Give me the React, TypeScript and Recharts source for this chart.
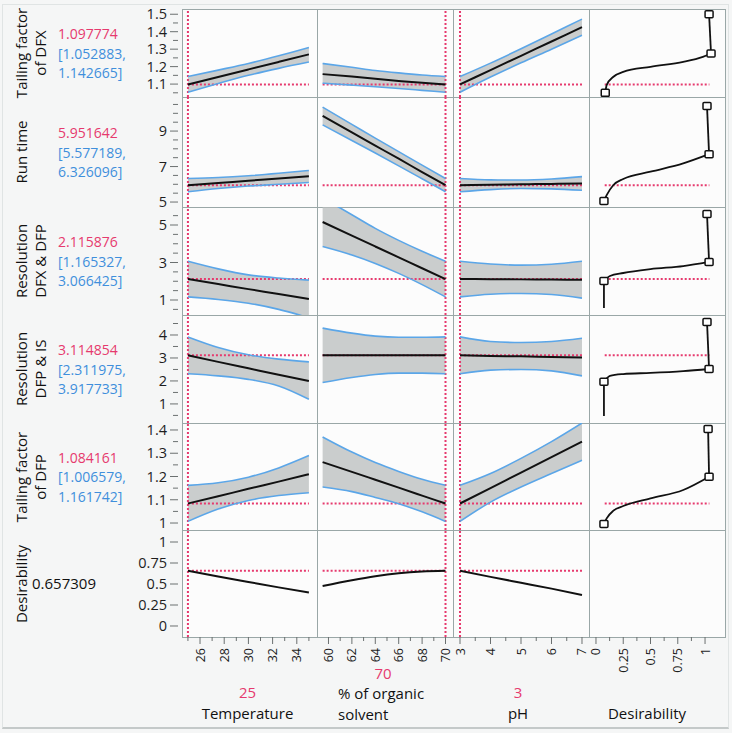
import React from "react";
import { ComposedChart, Area, Line, XAxis, YAxis, ReferenceLine } from "recharts";

const FONT = "'Open Sans', 'Noto Sans', sans-serif";
const RED = "#e63a6e";
const BLUE = "#5ba6e8";
const CI_BLUE = "#3f8fdc";
const FRAME = "#9aa7a7";

// factor grids + current settings
const tempX = [25, 27.5, 30, 32.5, 35];
const solvX = [59.5, 62, 64, 66, 68, 70];
const phX = [3, 4, 5, 6, 7];
const factorNow = [25, 70, 3];

// responses
const rowTitles = [["Tailing factor", "of DFX"], ["Run time"], ["Resolution", "DFX & DFP"], ["Resolution", "DFP & IS"], ["Tailing factor", "of DFP"], ["Desirability"]];
const rowValues = ["1.097774", "5.951642", "2.115876", "3.114854", "1.084161", "0.657309"];
const rowCI = [["[1.052883,", "1.142665]"], ["[5.577189,", "6.326096]"], ["[1.165327,", "3.066425]"], ["[2.311975,", "3.917733]"], ["[1.006579,", "1.161742]"], null];
const rowNow = [1.097774, 5.951642, 2.115876, 3.114854, 1.084161, 0.657309];

// y axes
const yDomains = [[1.026, 1.53], [4.72, 10.92], [0.2, 5.96], [0.17, 4.87], [0.97, 1.43], [-0.131, 1.143]];
const yMajor = [[1.1, 1.2, 1.3, 1.4, 1.5], [5, 7, 9], [1, 3, 5], [1, 2, 3, 4], [1, 1.1, 1.2, 1.3, 1.4], [0, 0.25, 0.5, 0.75, 1]];
const yMinor = [[1.05, 1.15, 1.25, 1.35, 1.45], [5.5, 6, 6.5, 7.5, 8, 8.5, 9.5, 10, 10.5], [0.5, 1.5, 2, 2.5, 3.5, 4, 4.5, 5.5], [0.5, 1.5, 2.5, 3.5, 4.5], [1.05, 1.15, 1.25, 1.35], []];

// x axes
const xTitles = [["Temperature"], ["% of organic", "solvent"], ["pH"], ["Desirability"]];
const xNowLabels = ["25", "70", "3", ""];
const xDomains = [[24.51, 35.67], [59.02, 70.64], [2.77, 7.23], [-0.064, 1.183]];
const xMajor = [[26, 28, 30, 32, 34], [60, 62, 64, 66, 68, 70], [3, 4, 5, 6, 7], [0, 0.25, 0.5, 0.75, 1]];
const xMinor = [[25, 27, 29, 31, 33, 35], [61, 63, 65, 67, 69], [3.5, 4.5, 5.5, 6.5], [0.125, 0.375, 0.625, 0.875]];

// Tailing factor of DFX
const tfxTemp = { fit: [1.098, 1.141, 1.184, 1.227, 1.27], lo: [1.053, 1.103, 1.15, 1.19, 1.226], hi: [1.143, 1.18, 1.218, 1.262, 1.31] };
const tfxSolv = { fit: [1.157, 1.143, 1.13, 1.118, 1.107, 1.098], lo: [1.105, 1.094, 1.085, 1.075, 1.064, 1.053], hi: [1.218, 1.196, 1.178, 1.164, 1.152, 1.143] };
const tfxPh = { fit: [1.098, 1.18, 1.262, 1.344, 1.426], lo: [1.053, 1.14, 1.222, 1.3, 1.38], hi: [1.143, 1.22, 1.302, 1.387, 1.472] };
// Run time
const rtTemp = { fit: [5.952, 6.07, 6.2, 6.32, 6.45], lo: [5.577, 5.76, 5.9, 6.0, 6.1], hi: [6.326, 6.38, 6.48, 6.62, 6.78] };
const rtSolv = { fit: [9.85, 8.92, 8.18, 7.44, 6.69, 5.952], lo: [9.35, 8.47, 7.76, 7.04, 6.31, 5.577], hi: [10.35, 9.38, 8.6, 7.84, 7.08, 6.326] };
const rtPh = { fit: [5.952, 5.97, 6.0, 6.02, 6.05], lo: [5.577, 5.7, 5.76, 5.74, 5.66], hi: [6.326, 6.25, 6.24, 6.3, 6.43] };
// Resolution DFX & DFP
const rs1Temp = { fit: [2.116, 1.85, 1.58, 1.32, 1.05], lo: [1.165, 1.03, 0.83, 0.5, 0.05], hi: [3.066, 2.66, 2.34, 2.17, 2.06] };
const rs1Solv = { fit: [5.16, 4.435, 3.855, 3.275, 2.695, 2.116], lo: [3.85, 3.4, 2.95, 2.42, 1.82, 1.165], hi: [6.45, 5.55, 4.82, 4.18, 3.6, 3.066] };
const rs1Ph = { fit: [2.116, 2.11, 2.1, 2.09, 2.08], lo: [1.165, 1.31, 1.35, 1.29, 1.1], hi: [3.066, 2.92, 2.86, 2.91, 3.07] };
// Resolution DFP & IS
const rs2Temp = { fit: [3.115, 2.83, 2.55, 2.27, 2.0], lo: [2.312, 2.22, 2.07, 1.78, 1.2], hi: [3.918, 3.46, 3.14, 2.95, 2.83] };
const rs2Solv = { fit: [3.12, 3.12, 3.12, 3.118, 3.116, 3.115], lo: [1.93, 2.15, 2.28, 2.34, 2.34, 2.312], hi: [4.3, 4.08, 3.95, 3.9, 3.9, 3.918] };
const rs2Ph = { fit: [3.115, 3.09, 3.07, 3.045, 3.02], lo: [2.312, 2.47, 2.5, 2.44, 2.22], hi: [3.918, 3.72, 3.67, 3.72, 3.86] };
// Tailing factor of DFP
const tfpTemp = { fit: [1.084, 1.115, 1.147, 1.178, 1.21], lo: [1.007, 1.06, 1.097, 1.118, 1.13], hi: [1.162, 1.173, 1.197, 1.237, 1.29] };
const tfpSolv = { fit: [1.262, 1.22, 1.186, 1.152, 1.118, 1.084], lo: [1.155, 1.135, 1.11, 1.083, 1.048, 1.007], hi: [1.37, 1.305, 1.26, 1.222, 1.188, 1.162] };
const tfpPh = { fit: [1.084, 1.15, 1.217, 1.283, 1.35], lo: [1.007, 1.09, 1.155, 1.213, 1.27], hi: [1.162, 1.213, 1.278, 1.35, 1.43] };
// Desirability
const desTemp = { fit: [0.657, 0.59, 0.525, 0.46, 0.4] };
const desSolv = { fit: [0.476, 0.545, 0.592, 0.627, 0.648, 0.657] };
const desPh = { fit: [0.657, 0.585, 0.515, 0.445, 0.37] };

// desirability functions (x = desirability, y = response)
const dfD = [
  [0.085, 0.098, 0.16, 0.25, 0.5, 0.8, 0.98, 1.055],
  [0.073, 0.098, 0.16, 0.25, 0.5, 0.8, 1.037],
  [0.073, 0.128, 0.25, 0.5, 0.8, 1.037],
  [0.073, 0.128, 0.25, 0.5, 0.8, 1.037],
  [0.073, 0.098, 0.16, 0.25, 0.5, 0.8, 1.037],
];
const dfY = [
  [1.05, 1.094, 1.142, 1.17, 1.199, 1.227, 1.256, 1.275],
  [5.06, 5.39, 5.96, 6.3, 6.71, 7.18, 7.7],
  [2.01, 2.28, 2.44, 2.65, 2.81, 3.03],
  [1.96, 2.22, 2.3, 2.35, 2.43, 2.52],
  [0.996, 1.02, 1.053, 1.073, 1.106, 1.142, 1.199],
];
const dfTopD = [1.037, 1.018, 1.018, 1.018, 1.028];
const dfTopY = [1.5, 10.41, 5.59, 4.57, 1.404];
const dfTailY = [null, null, 0.57, 0.48, null];

const profiles = [
  [tfxTemp, tfxSolv, tfxPh],
  [rtTemp, rtSolv, rtPh],
  [rs1Temp, rs1Solv, rs1Ph],
  [rs2Temp, rs2Solv, rs2Ph],
  [tfpTemp, tfpSolv, tfpPh],
  [desTemp, desSolv, desPh],
];
const factorX = [tempX, solvX, phX];

// layout
const colL = [182, 317, 453, 589];
const colR = [317, 453, 589, 725];
const rowT = [9, 97, 207, 315, 423, 530];
const rowB = [97, 207, 315, 423, 530, 637];
const Y_AXIS_W = 46;
const X_AXIS_H = 48;
const PAD = 10; // room around the axes so their labels are not clipped

const yTick = (r: number) => (p: any) => {
  const v = p.payload.value;
  const major = yMajor[r].includes(v);
  return (
    <g key={`yt-${r}-${v}`}>
      <line x1={p.x - (major ? 12 : 9)} x2={p.x - 4} y1={p.y} y2={p.y} stroke="#6b7070" />
      {major && (
        <text x={p.x - 15} y={p.y} dy={5} textAnchor="end" fontSize={14.5} fontFamily={FONT} fill="#1e1e1e">{v}</text>
      )}
    </g>
  );
};

const xTick = (c: number) => (p: any) => {
  const v = p.payload.value;
  const major = xMajor[c].includes(v);
  const ty = p.y + 11;
  return (
    <g key={`xt-${c}-${v}`}>
      <line x1={p.x} x2={p.x} y1={p.y} y2={p.y + (major ? 7 : 4)} stroke="#6b7070" />
      {major && (
        <text x={p.x} y={ty} dy={4.5} textAnchor="end" transform={`rotate(-90, ${p.x}, ${ty})`} fontSize={12.5} fontFamily={FONT} fill="#1e1e1e">{v}</text>
      )}
    </g>
  );
};

function axes(r: number, c: number) {
  return [
    <XAxis key="x" type="number" dataKey="x" domain={xDomains[c]} allowDataOverflow hide={r !== 5}
      ticks={[...xMinor[c], ...xMajor[c]]} interval={0} tick={xTick(c)} tickLine={false} axisLine={false}
      tickSize={0} tickMargin={0} height={X_AXIS_H} />,
    <YAxis key="y" type="number" dataKey="y" domain={yDomains[r]} allowDataOverflow hide={c !== 0}
      ticks={[...yMinor[r], ...yMajor[r]]} interval={0} tick={yTick(r)} tickLine={false} axisLine={false}
      tickSize={0} tickMargin={0} width={Y_AXIS_W} />,
  ];
}

function chartBox(r: number, c: number) {
  const padV = c === 0 ? PAD : 0;
  const padL = r === 5 && c !== 0 ? PAD : 0;
  const padR = r === 5 ? PAD : 0;
  const left = colL[c] - (c === 0 ? Y_AXIS_W : 0) - padL;
  const width = colR[c] - colL[c] + (c === 0 ? Y_AXIS_W : 0) + padL + padR;
  const height = rowB[r] - rowT[r] + (r === 5 ? X_AXIS_H : 0) + 2 * padV;
  return { left, top: rowT[r] - padV, width, height, margin: { top: padV, right: padR, bottom: padV, left: padL } };
}

const dash = { stroke: RED, strokeDasharray: "2 2", strokeWidth: 2 };

function ProfileCell({ r, c }: { r: number; c: number }) {
  const xs = factorX[c];
  const band: any = profiles[r][c];
  const data = xs.map((x, i) => ({ x, fit: band.fit[i], lo: band.lo ? band.lo[i] : null, hi: band.hi ? band.hi[i] : null }));
  const box = chartBox(r, c);
  const y0 = rowNow[r];
  return (
    <div style={{ position: "absolute", left: box.left, top: box.top }}>
      <ComposedChart width={box.width} height={box.height} data={data} margin={box.margin}>
        {axes(r, c)}
        <ReferenceLine x={factorNow[c]} {...dash} />
        <ReferenceLine segment={[{ x: xs[0], y: y0 }, { x: xs[xs.length - 1], y: y0 }]} {...dash} />
        {band.lo && (
          <Area dataKey={(d: any) => [d.lo, d.hi]} type="monotone" fill="#b9bebe" fillOpacity={0.75} stroke="none" isAnimationActive={false} />
        )}
        {band.lo && <Line dataKey="lo" type="monotone" stroke={BLUE} strokeWidth={1.6} dot={false} isAnimationActive={false} />}
        {band.hi && <Line dataKey="hi" type="monotone" stroke={BLUE} strokeWidth={1.6} dot={false} isAnimationActive={false} />}
        <Line dataKey="fit" type="monotone" stroke="#111" strokeWidth={2} dot={false} isAnimationActive={false} />
      </ComposedChart>
    </div>
  );
}

const square = (p: any) => (
  <rect key={`sq-${p.index}`} x={p.cx - 4} y={p.cy - 3.5} width={8} height={7} rx={1} fill="#fff" stroke="#111" strokeWidth={1.5} />
);

function DesCell({ r }: { r: number }) {
  const c = 3;
  const box = chartBox(r, c);
  if (r === 5) {
    return (
      <div style={{ position: "absolute", left: box.left, top: box.top }}>
        <ComposedChart width={box.width} height={box.height} data={[]} margin={box.margin}>
          {axes(r, c)}
        </ComposedChart>
      </div>
    );
  }
  const curve = dfD[r].map((x, i) => ({ x, y: dfY[r][i] }));
  const last = curve[curve.length - 1];
  const top = [last, { x: dfTopD[r], y: dfTopY[r] }];
  const tail = dfTailY[r] != null ? [{ x: curve[0].x, y: dfTailY[r] }, curve[0]] : null;
  const squares = [curve[0], last, top[1]];
  return (
    <div style={{ position: "absolute", left: box.left, top: box.top }}>
      <ComposedChart width={box.width} height={box.height} data={curve} margin={box.margin}>
        {axes(r, c)}
        <ReferenceLine segment={[{ x: 0.08, y: rowNow[r] }, { x: 1.04, y: rowNow[r] }]} {...dash} />
        <Line data={curve} dataKey="y" type="monotone" stroke="#111" strokeWidth={1.8} dot={false} isAnimationActive={false} />
        <Line data={top} dataKey="y" type="linear" stroke="#111" strokeWidth={1.8} dot={false} isAnimationActive={false} />
        {tail && <Line data={tail} dataKey="y" type="linear" stroke="#111" strokeWidth={1.8} dot={false} isAnimationActive={false} />}
        <Line data={squares} dataKey="y" type="linear" stroke="none" dot={square} isAnimationActive={false} />
      </ComposedChart>
    </div>
  );
}

function Rotated({ cx, cy, lines, size = 15 }: { cx: number; cy: number; lines: string[]; size?: number }) {
  return (
    <div style={{
      position: "absolute", left: cx, top: cy, transform: "translate(-50%, -50%) rotate(-90deg)",
      whiteSpace: "nowrap", textAlign: "center", fontSize: size, lineHeight: "19px", color: "#111",
    }}>
      {lines.map((l) => <div key={l}>{l}</div>)}
    </div>
  );
}

export default function App() {
  const frames = [];
  for (let r = 0; r < 6; r++) {
    for (let c = 0; c < 4; c++) {
      frames.push(
        <div key={`f-${r}-${c}`} style={{
          position: "absolute", left: colL[c], top: rowT[r], width: colR[c] - colL[c] + 1, height: rowB[r] - rowT[r] + 1,
          boxSizing: "border-box", border: `1px solid ${FRAME}`, background: "#fcfcfc",
        }} />
      );
    }
  }

  const labels = rowTitles.map((t, r) => {
    const cy = (rowT[r] + rowB[r]) / 2;
    const cx = t.length === 2 ? 31 : 21;
    return <Rotated key={`t-${r}`} cx={cx} cy={cy} lines={t} />;
  });

  const values = rowValues.map((v, r) => {
    const cy = (rowT[r] + rowB[r]) / 2;
    const ci = rowCI[r];
    if (!ci) {
      return (
        <div key={`v-${r}`} style={{ position: "absolute", left: 32, top: cy - 11, fontSize: 15, lineHeight: "21px", color: "#111" }}>{v}</div>
      );
    }
    return (
      <div key={`v-${r}`} style={{ position: "absolute", left: 58, top: cy - 29, fontSize: 14, lineHeight: "19.5px" }}>
        <div style={{ color: RED }}>{v}</div>
        <div style={{ color: CI_BLUE }}>{ci[0]}</div>
        <div style={{ color: CI_BLUE }}>{ci[1]}</div>
      </div>
    );
  });

  const bottom = xTitles.map((t, c) => {
    const cx = c === 1 ? 383 : (colL[c] + colR[c]) / 2 + (c === 0 ? -2 : c === 2 ? -3 : -10);
    return (
      <div key={`b-${c}`}>
        {xNowLabels[c] && (
          <div style={{ position: "absolute", left: cx, top: c === 1 ? 663 : 682, transform: "translateX(-50%)", fontSize: 15, lineHeight: "21px", color: RED }}>{xNowLabels[c]}</div>
        )}
        {c === 1 ? (
          <div style={{ position: "absolute", left: 338, top: 683, fontSize: 15, lineHeight: "21px", color: "#111", whiteSpace: "nowrap" }}>
            {t.map((l) => <div key={l}>{l}</div>)}
          </div>
        ) : (
          <div style={{ position: "absolute", left: cx, top: 703, transform: "translateX(-50%)", fontSize: 15, lineHeight: "21px", color: "#111", whiteSpace: "nowrap" }}>{t[0]}</div>
        )}
      </div>
    );
  });

  const charts = [];
  for (let r = 0; r < 6; r++) {
    for (let c = 0; c < 3; c++) charts.push(<ProfileCell key={`p-${r}-${c}`} r={r} c={c} />);
    charts.push(<DesCell key={`d-${r}`} r={r} />);
  }

  return (
    <div style={{ position: "absolute", left: 0, top: 0, width: 732, height: 733, background: "#f5f6f6", fontFamily: FONT, overflow: "hidden" }}>
      <div style={{ position: "absolute", left: 2, top: 4, width: 727, height: 725, boxSizing: "border-box", border: "1px solid #e0e4e4", borderBottom: "2px solid #c4c9c9" }} />
      {frames}
      {labels}
      {values}
      {bottom}
      {charts}
    </div>
  );
}
